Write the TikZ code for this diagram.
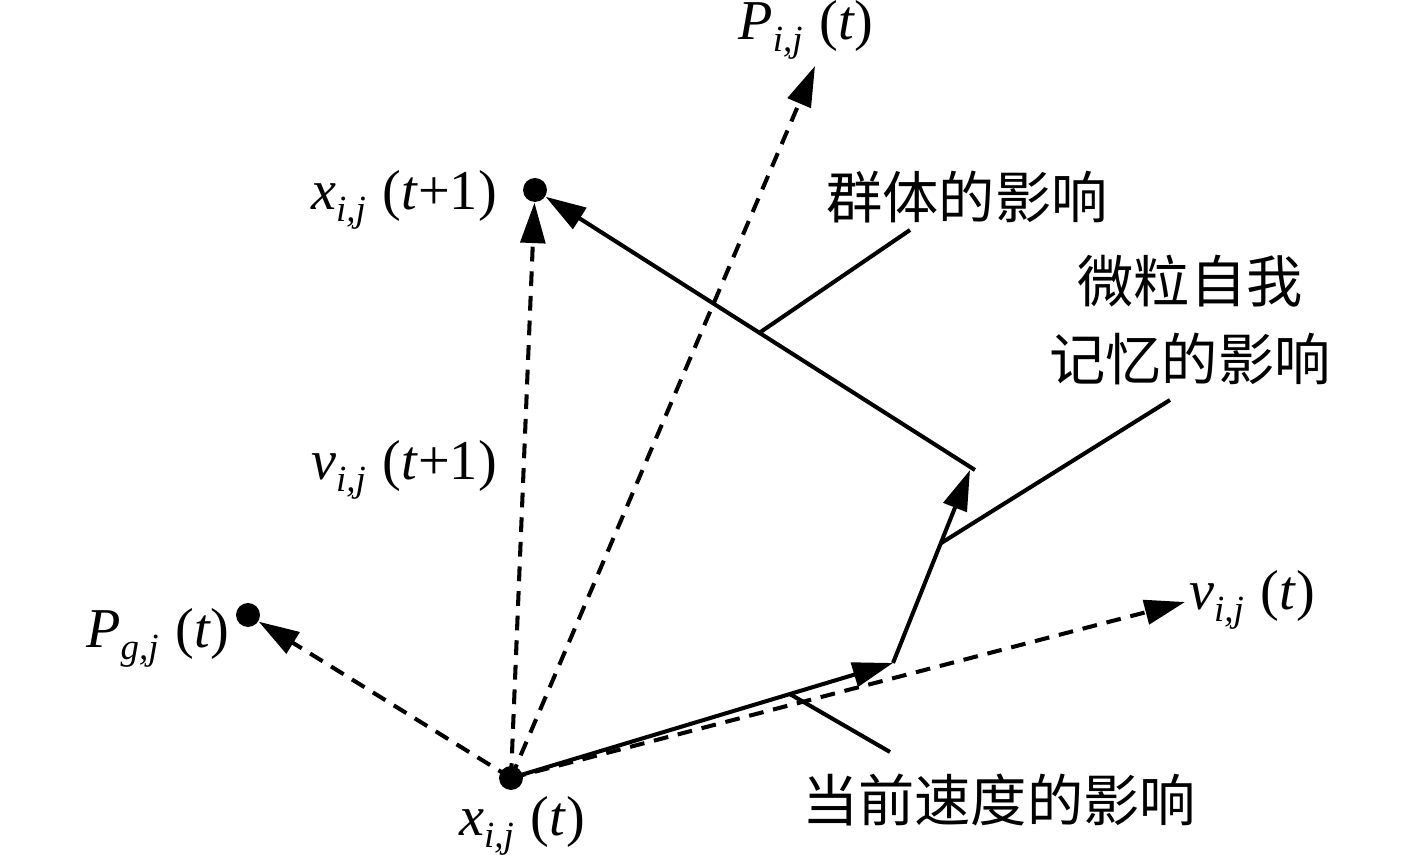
\documentclass[tikz,border=0pt]{standalone}
\usepackage{fontspec}
\setmainfont{Liberation Serif}
\newfontfamily\cjk{Noto Sans CJK SC}
\usetikzlibrary{arrows.meta,calc}
\newcommand{\lab}[3]{\textit{#1}\raisebox{-0.22em}{\fontsize{10.5}{11}\selectfont\textit{#2}}\hspace{0.3em}(#3)}
\begin{document}
\begin{tikzpicture}[x=0.01cm,y=-0.01cm,
  dot/.style={circle,fill=black,inner sep=0pt,minimum size=6.8pt},
  vec/.style={line width=1.15pt,-{Triangle[length=11.5pt,width=7pt]}},
  dvec/.style={vec,dash pattern=on 4.2pt off 2.8pt},
  leader/.style={line width=1.15pt},
  mlab/.style={font=\fontsize{16}{18}\selectfont,inner sep=0pt},
  clab/.style={font=\cjk\fontsize{16}{22}\selectfont,inner sep=0pt,align=center}]
\useasboundingbox (0,0) rectangle (1417,861);
% points
\node[dot] (xt) at (511,778) {};
\node[dot] (xt1) at (535,190) {};
\node[dot] (pg) at (248,615) {};
\coordinate (pij) at (815,66);
\coordinate (vt) at (1185,602);
\coordinate (a) at (893,663);
\coordinate (b) at (970,470);
\coordinate (b2) at (975,470);
% labels
\node[mlab] (lpij) at (806,30) {\lab{P}{i,j}{\textit{t}}};
\node[mlab] (lxt1) at (404,200) {\lab{x}{i,j}{\textit{t}+1}};
\node[mlab] (lvt1) at (404,470) {\lab{v}{i,j}{\textit{t}+1}};
\node[mlab] (lpg) at (158,638) {\lab{P}{g,j}{\textit{t}}};
\node[mlab] (lxt) at (522,826) {\lab{x}{i,j}{\textit{t}}};
\node[mlab] (lvt) at (1252,600) {\lab{v}{i,j}{\textit{t}}};
\node[clab] (lq) at (967,197) {群体的影响};
\node[clab] (lm) at (1190,320) {微粒自我\\记忆的影响};
\node[clab] (lc) at (999,800) {当前速度的影响};
% dashed vectors
\draw[dvec] (xt.center) -- (pg);
\draw[dvec] (xt.center) -- (xt1);
\draw[dvec] (xt.center) -- (pij);
\draw[dvec] (xt.center) -- (vt);
% solid vectors
\draw[vec] (xt.center) -- (a);
\draw[vec] (a) -- (b);
\draw[vec] (b2) -- (xt1);
% leaders
\coordinate (q1) at ($(b2)!0.49!(xt1)$);
\coordinate (q2) at (910,230);
\coordinate (m1) at ($(a)!0.62!(b)$);
\coordinate (m2) at (1170,400);
\coordinate (c1) at ($(xt)!0.73!(a)$);
\coordinate (c2) at (890,752);
\draw[leader] (q1) -- (q2);
\draw[leader] (m1) -- (m2);
\draw[leader] (c1) -- (c2);
\end{tikzpicture}
\end{document}
